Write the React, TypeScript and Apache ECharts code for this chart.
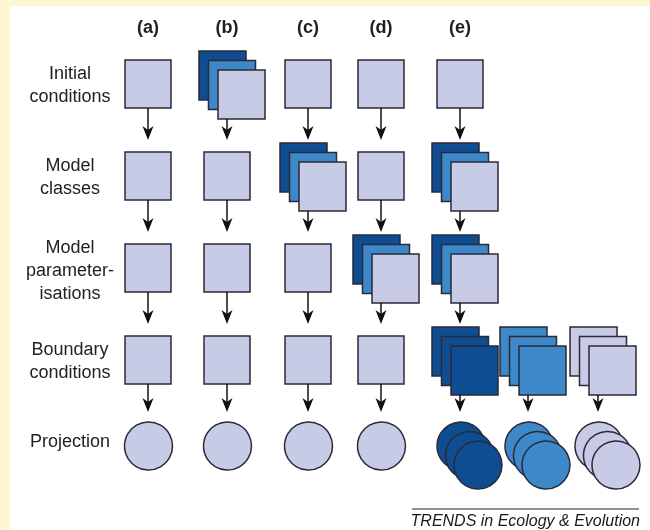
import React, { useEffect, useRef } from "react";
import * as echarts from "echarts";

// ---- content ----
const columnLabels = ["(a)", "(b)", "(c)", "(d)", "(e)"];
const rowLabels = [
  "Initial\nconditions",
  "Model\nclasses",
  "Model\nparameter-\nisations",
  "Boundary\nconditions",
  "Projection",
];
// stages (row index) at which each column uses an ensemble (dark/medium/light stack)
const ensembleStages: number[][] = [[], [0], [1], [2], [1, 2]];
// column (e) branches into three ensembles at the boundary-conditions stage
const branchColumn = 4;
const branchStage = 3;
const branchTones = ["dark", "medium", "light"];
const stackTones = ["dark", "medium", "light"];
const footer = "TRENDS in Ecology & Evolution";

// ---- style / layout ----
const COLORS: Record<string, string> = {
  dark: "#0F4D92",
  medium: "#3C88C8",
  light: "#C8CBE6",
};
const STROKE = "#2A2A38";
const colX = [148, 227, 308, 381, 460];
const branchX = [460, 528, 598];
const rowTop = [60, 152, 244, 336];
const SQ_W = 46;
const SQ_H = 48;
const STEP = 9.5;
const CIRCLE_Y = 446;
const R = 24;
const labelY = [84, 176, 270, 360, 441];

function buildGraphics() {
  const els: any[] = [];
  els.push({ type: "rect", shape: { x: 0, y: 0, width: 650, height: 530 }, style: { fill: "#FDF8CF" } });
  els.push({ type: "rect", shape: { x: 10, y: 6, width: 640, height: 524 }, style: { fill: "#FFFFFF" } });

  const sqStyle = (tone: string) => ({ fill: COLORS[tone], stroke: STROKE, lineWidth: 1.5 });

  const arrow = (x: number, y0: number, tip: number) => {
    els.push({ type: "line", shape: { x1: x, y1: y0, x2: x, y2: tip - 8 }, style: { stroke: "#111", lineWidth: 1.5 } });
    els.push({
      type: "polygon",
      shape: { points: [[x, tip], [x - 5.5, tip - 14], [x, tip - 10], [x + 5.5, tip - 14]] },
      style: { fill: "#111" },
    });
  };

  // returns bottom y of the front element
  const drawSquares = (cx: number, top: number, tones: string[] | null) => {
    if (!tones) {
      els.push({ type: "rect", shape: { x: cx - SQ_W / 2, y: top, width: SQ_W, height: SQ_H }, style: sqStyle("light") });
      return top + SQ_H;
    }
    tones.forEach((t, i) => {
      els.push({
        type: "rect",
        shape: { x: cx - 28 + STEP * i, y: top - 9 + STEP * i, width: SQ_W + 1, height: SQ_H + 1 },
        style: sqStyle(t),
      });
    });
    return top - 9 + STEP * (tones.length - 1) + SQ_H + 1;
  };

  const drawCircles = (cx: number, tones: string[] | null) => {
    if (!tones) {
      els.push({ type: "circle", shape: { cx: cx + 0.5, cy: CIRCLE_Y, r: R }, style: sqStyle("light") });
      return;
    }
    tones.forEach((t, i) => {
      els.push({
        type: "circle",
        shape: { cx: cx + 1 + 8.5 * i, cy: CIRCLE_Y + STEP * i, r: R },
        style: sqStyle(t),
      });
    });
  };

  columnLabels.forEach((lab, c) => {
    els.push({
      type: "text",
      x: colX[c],
      y: 27,
      style: { text: lab, fill: "#1E1E1E", font: "bold 18px 'Liberation Sans', Arial, sans-serif", align: "center", verticalAlign: "middle" },
    });
    const cx = colX[c];
    for (let r = 0; r < 4; r++) {
      if (c === branchColumn && r === branchStage) {
        branchTones.forEach((bt, b) => {
          const bottom = drawSquares(branchX[b], rowTop[r], [bt, bt, bt]);
          arrow(branchX[b], bottom, 412);
          drawCircles(branchX[b], [bt, bt, bt]);
        });
        continue;
      }
      const tones = ensembleStages[c].includes(r) ? stackTones : null;
      const bottom = drawSquares(cx, rowTop[r], tones);
      const tip = r < 3 ? rowTop[r + 1] - 12 : 412;
      arrow(cx, bottom, tip);
      if (r === 3) drawCircles(cx, null);
    }
  });

  rowLabels.forEach((lab, r) => {
    els.push({
      type: "text",
      x: 70,
      y: labelY[r],
      style: {
        text: lab,
        fill: "#222222",
        font: "18px 'Liberation Sans', Arial, sans-serif",
        align: "center",
        verticalAlign: "middle",
        lineHeight: 23,
      },
    });
  });

  els.push({ type: "line", shape: { x1: 412, y1: 509, x2: 639, y2: 509 }, style: { stroke: "#222", lineWidth: 1 } });
  els.push({
    type: "text",
    x: 640,
    y: 520,
    style: { text: footer, fill: "#1A1A1A", font: "italic 16px 'Liberation Sans', Arial, sans-serif", align: "right", verticalAlign: "middle" },
  });
  return els;
}

export default function App() {
  const ref = useRef<HTMLDivElement>(null);
  useEffect(() => {
    if (!ref.current) return;
    const chart = echarts.init(ref.current, undefined, { renderer: "svg" });
    chart.setOption({ animation: false, graphic: { elements: buildGraphics() } });
    return () => chart.dispose();
  }, []);
  return <div ref={ref} style={{ position: "fixed", left: 0, top: 0, width: 650, height: 530 }} />;
}
